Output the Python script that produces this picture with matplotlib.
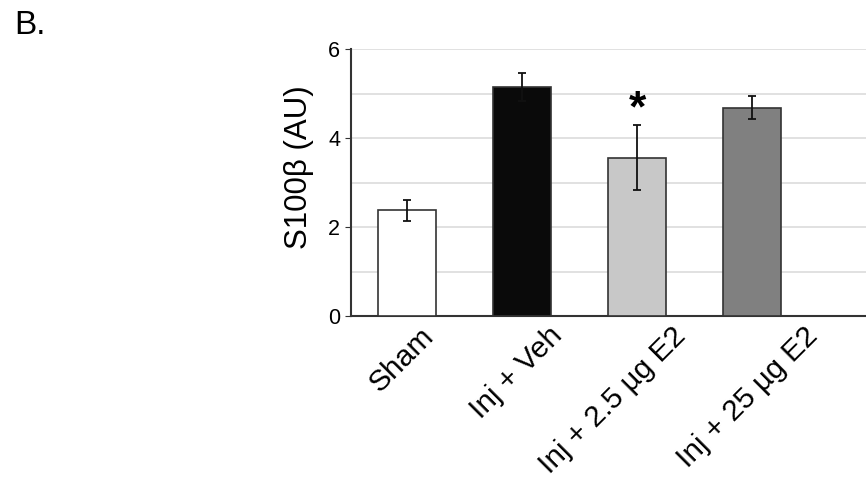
import numpy as np
import matplotlib.pyplot as plt
import matplotlib.transforms as mtransforms

groups = ["Sham", "Inj + Veh", "Inj + 2.5 \u00b5g E2", "Inj + 25 \u00b5g E2"]
means = [2.38, 5.15, 3.56, 4.68]
errors = [0.23, 0.31, 0.73, 0.26]
colors = ["#ffffff", "#0a0a0a", "#c8c8c8", "#808080"]
star_group = 2
star_y = 4.64

plt.rcParams["font.family"] = "Liberation Sans"

fig = plt.figure(figsize=(8.66, 4.82), dpi=100)
ax = fig.add_axes([0.405, 0.344, 0.595, 0.554])

x = np.arange(len(groups))
ax.bar(x, means, width=0.51, color=colors, edgecolor="#333333", linewidth=1.2, zorder=3)
ax.errorbar(x, means, yerr=errors, fmt="none", ecolor="#111111", elinewidth=1.3,
            capsize=3, capthick=1.3, zorder=4)
ax.text(x[star_group], star_y, "*", ha="center", va="center", fontsize=32, fontweight="bold")

ax.set_xlim(-0.49, 3.99)
ax.set_ylim(0, 6)
ax.set_yticks([0, 2, 4, 6])
ax.set_yticks([1, 3, 5], minor=True)
ax.grid(axis="y", which="both", color="#dcdcdc", linewidth=1.2, zorder=0)
ax.tick_params(axis="y", which="minor", length=0)
ax.tick_params(axis="y", labelsize=15.5, length=4, color="#333333")
ax.tick_params(axis="x", length=0, labelsize=21.5, pad=4)
ax.set_xticks(x)
ax.set_xticklabels(groups, rotation=45, ha="right", rotation_mode="anchor")
# shift the slanted labels to the right (pixels), as in the original layout
label_dx = [12, 26, 34, 51]
for lab, dx in zip(ax.get_xticklabels(), label_dx):
    lab.set_transform(lab.get_transform() + mtransforms.ScaledTranslation(dx / 100, 0, fig.dpi_scale_trans))
ax.set_ylabel("S100\u03b2 (AU)", fontsize=22.5)
ax.yaxis.set_label_coords(-0.072, 0.56)
for s in ["top", "right"]:
    ax.spines[s].set_visible(False)
for s in ["left", "bottom"]:
    ax.spines[s].set_color("#333333")
    ax.spines[s].set_linewidth(1.5)

fig.text(0.016, 0.98, "B.", fontsize=24, va="top")

fig.savefig("out.png", dpi=100)
